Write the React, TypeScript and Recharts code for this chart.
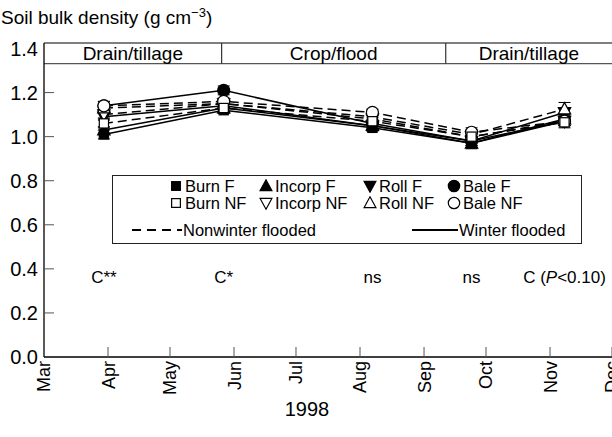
import React from 'react';
import {
  LineChart,
  Line,
  XAxis,
  YAxis,
  ErrorBar,
  ReferenceLine,
  ReferenceArea,
  ReferenceDot,
  Legend,
} from 'recharts';

const FONT = '"Liberation Sans", Arial, sans-serif';

// Sampling dates, counted in days after 1 March 1998
const sampleDays = [29, 87, 159, 207, 252];

// Soil bulk density (g cm-3), winter flooded (F) and nonwinter flooded (NF)
const burnF = [1.01, 1.12, 1.04, 0.97, 1.07];
const incorpF = [1.03, 1.13, 1.05, 0.97, 1.08];
const rollF = [1.09, 1.14, 1.05, 0.98, 1.11];
const baleF = [1.14, 1.21, 1.06, 0.98, 1.07];
const burnNF = [1.06, 1.13, 1.07, 1.0, 1.065];
const incorpNF = [1.1, 1.15, 1.08, 1.0, 1.07];
const rollNF = [1.13, 1.15, 1.09, 1.01, 1.125];
const baleNF = [1.14, 1.16, 1.11, 1.02, 1.07];

// Standard errors
const burnFErr = [0.02, 0.015, 0.015, 0.025, 0.02];
const incorpFErr = [0.015, 0.015, 0.015, 0.02, 0.02];
const rollFErr = [0.015, 0.015, 0.015, 0.02, 0.02];
const baleFErr = [0.02, 0.02, 0.015, 0.02, 0.02];
const burnNFErr = [0.02, 0.015, 0.015, 0.02, 0.025];
const incorpNFErr = [0.015, 0.015, 0.015, 0.02, 0.02];
const rollNFErr = [0.02, 0.015, 0.015, 0.02, 0.03];
const baleNFErr = [0.02, 0.015, 0.015, 0.02, 0.02];

// Contrast results printed under each sampling date
const contrastLabels = ['C**', 'C*', 'ns', 'ns', 'C (P<0.10)'];

// Month ticks (days after 1 March) and their labels
const monthTicks = [0, 31, 61, 92, 122, 153, 184, 214, 245, 275];
const monthLabels = ['Mar', 'Apr', 'May', 'Jun', 'Jul', 'Aug', 'Sep', 'Oct', 'Nov', 'Dec'];
const densityTicks = [0, 0.2, 0.4, 0.6, 0.8, 1.0, 1.2, 1.4];

// Management phases shown in the band across the top
const phaseNames = ['Drain/tillage', 'Crop/flood', 'Drain/tillage'];
const phaseBounds = [0, 86, 194.5, 275];

type Shape = 'square' | 'up' | 'down' | 'circle';

interface Series {
  key: string;
  name: string;
  values: number[];
  errors: number[];
  shape: Shape;
  filled: boolean;
}

// Drawing order: winter flooded first, nonwinter flooded on top
const seriesList: Series[] = [
  { key: 'rollF', name: 'Roll F', values: rollF, errors: rollFErr, shape: 'down', filled: true },
  { key: 'incorpF', name: 'Incorp F', values: incorpF, errors: incorpFErr, shape: 'up', filled: true },
  { key: 'burnF', name: 'Burn F', values: burnF, errors: burnFErr, shape: 'square', filled: true },
  { key: 'baleF', name: 'Bale F', values: baleF, errors: baleFErr, shape: 'circle', filled: true },
  { key: 'incorpNF', name: 'Incorp NF', values: incorpNF, errors: incorpNFErr, shape: 'down', filled: false },
  { key: 'rollNF', name: 'Roll NF', values: rollNF, errors: rollNFErr, shape: 'up', filled: false },
  { key: 'baleNF', name: 'Bale NF', values: baleNF, errors: baleNFErr, shape: 'circle', filled: false },
  { key: 'burnNF', name: 'Burn NF', values: burnNF, errors: burnNFErr, shape: 'square', filled: false },
];

const rows = sampleDays.map((day, i) => {
  const row: Record<string, number> = { day };
  seriesList.forEach((s) => {
    row[s.key] = s.values[i];
    row[s.key + 'Err'] = s.errors[i];
  });
  return row;
});

function MarkerShape({ cx, cy, shape, filled, scale = 1 }: { cx: number; cy: number; shape: Shape; filled: boolean; scale?: number }) {
  const fill = filled ? '#000' : '#fff';
  const common = { fill, stroke: '#000', strokeWidth: 1.2 };
  if (shape === 'square') {
    const h = 4.6 * scale;
    return <rect x={cx - h} y={cy - h} width={2 * h} height={2 * h} {...common} />;
  }
  if (shape === 'circle') {
    return <circle cx={cx} cy={cy} r={6 * scale} {...common} />;
  }
  const w = 6.2 * scale;
  const t = 6.5 * scale;
  const b = 4.8 * scale;
  const pts =
    shape === 'up'
      ? `${cx},${cy - t} ${cx + w},${cy + b} ${cx - w},${cy + b}`
      : `${cx},${cy + t} ${cx + w},${cy - b} ${cx - w},${cy - b}`;
  return <polygon points={pts} {...common} strokeLinejoin="miter" />;
}

function MonthTick(props: any) {
  const { x, y, payload } = props;
  const idx = monthTicks.indexOf(payload.value);
  return (
    <g>
      {idx > 0 && <line x1={x} x2={x} y1={y - 4} y2={y - 14} stroke="#555" strokeWidth={1} />}
      <text
        transform={`translate(${x},${y}) rotate(-90)`}
        textAnchor="end"
        dy="0.36em"
        fontSize={18}
        fontFamily={FONT}
        fill="#000"
      >
        {monthLabels[idx]}
      </text>
    </g>
  );
}

function DensityTick(props: any) {
  const { x, y, payload } = props;
  const v = payload.value as number;
  return (
    <g>
      {v > 0 && v < 1.4 && <line x1={x + 6} x2={x + 16} y1={y} y2={y} stroke="#555" strokeWidth={1} />}
      <text x={x} y={y} textAnchor="end" dy="0.36em" fontSize={20} fontFamily={FONT} fill="#000">
        {v.toFixed(1)}
      </text>
    </g>
  );
}

function LegendIcon({ shape, filled }: { shape: Shape; filled: boolean }) {
  return (
    <svg width={14} height={14} style={{ display: 'block' }}>
      <MarkerShape cx={7} cy={7} shape={shape} filled={filled} scale={0.95} />
    </svg>
  );
}

const legendColumns = [56, 146, 250, 334];
const legendRows: { shape: Shape; filled: boolean; name: string }[][] = [
  [
    { shape: 'square', filled: true, name: 'Burn F' },
    { shape: 'up', filled: true, name: 'Incorp F' },
    { shape: 'down', filled: true, name: 'Roll F' },
    { shape: 'circle', filled: true, name: 'Bale F' },
  ],
  [
    { shape: 'square', filled: false, name: 'Burn NF' },
    { shape: 'down', filled: false, name: 'Incorp NF' },
    { shape: 'up', filled: false, name: 'Roll NF' },
    { shape: 'circle', filled: false, name: 'Bale NF' },
  ],
];
const legendRowCenters = [10, 27];

function LegendBox() {
  const itemStyle = (left: number, center: number): React.CSSProperties => ({
    position: 'absolute',
    left,
    top: center - 8,
    height: 16,
    display: 'flex',
    alignItems: 'center',
    whiteSpace: 'nowrap',
    lineHeight: '16px',
  });
  return (
    <div
      style={{
        position: 'relative',
        width: 470,
        height: 69,
        border: '1.3px solid #222',
        boxSizing: 'border-box',
        background: '#fff',
        fontFamily: FONT,
        fontSize: 16.5,
        color: '#000',
      }}
    >
      {legendRows.map((row, r) =>
        row.map((item, c) => (
          <div key={item.name} style={itemStyle(legendColumns[c], legendRowCenters[r])}>
            <LegendIcon shape={item.shape} filled={item.filled} />
            <span style={{ marginLeft: 2 }}>{item.name}</span>
          </div>
        ))
      )}
      <div style={itemStyle(19, 54)}>
        <svg width={50} height={6} style={{ display: 'block' }}>
          <line x1={0} x2={50} y1={3} y2={3} stroke="#000" strokeWidth={2} strokeDasharray="9 6" />
        </svg>
        <span style={{ marginLeft: 1 }}>Nonwinter flooded</span>
      </div>
      <div style={itemStyle(299, 54)}>
        <svg width={46} height={6} style={{ display: 'block' }}>
          <line x1={0} x2={46} y1={3} y2={3} stroke="#000" strokeWidth={2} />
        </svg>
        <span style={{ marginLeft: 1 }}>Winter flooded</span>
      </div>
    </div>
  );
}

function ContrastLabel(text: string) {
  return (props: any) => {
    const vb = props.viewBox || {};
    const cx = (vb.x ?? 0) + (vb.width ?? 0) / 2;
    const cy = (vb.y ?? 0) + (vb.height ?? 0) / 2;
    const m = text.match(/^(.*\()P(.*)$/);
    return (
      <text x={cx} y={cy} textAnchor="middle" dy="0.36em" fontSize={17} fontFamily={FONT} fill="#000">
        {m ? (
          <>
            {m[1]}
            <tspan fontStyle="italic">P</tspan>
            {m[2]}
          </>
        ) : (
          text
        )}
      </text>
    );
  };
}

export default function App() {
  return (
    <div style={{ position: 'absolute', left: 0, top: 0, width: 612, height: 437, background: '#fff' }}>
      <div
        style={{
          position: 'absolute',
          left: 1,
          top: 7,
          fontFamily: FONT,
          fontSize: 19,
          lineHeight: '22px',
          color: '#000',
          whiteSpace: 'nowrap',
        }}
      >
        Soil bulk density (g cm
        <sup style={{ fontSize: 13, verticalAlign: 'baseline', position: 'relative', top: -7 }}>−3</sup>)
      </div>
      <LineChart width={612} height={437} data={rows} margin={{ top: 43, right: 0, bottom: 0, left: 0 }}>
        <XAxis
          type="number"
          dataKey="day"
          domain={[0, 275]}
          ticks={monthTicks}
          interval={0}
          tick={<MonthTick />}
          tickSize={0}
          tickMargin={4}
          tickLine={false}
          height={80}
          axisLine={{ stroke: '#000', strokeWidth: 1.3 }}
        />
        <YAxis
          type="number"
          domain={[0, 1.425]}
          ticks={densityTicks}
          interval={0}
          tick={<DensityTick />}
          tickSize={0}
          tickMargin={6}
          tickLine={false}
          width={44}
          axisLine={{ stroke: '#000', strokeWidth: 1.3 }}
        />

        {/* Phase band across the top of the plot */}
        <ReferenceLine y={1.425} stroke="#555" strokeWidth={1.3} />
        <ReferenceLine y={1.331} stroke="#555" strokeWidth={1.3} />
        {phaseBounds.slice(1, -1).map((d) => (
          <ReferenceLine
            key={`sep-${d}`}
            segment={[
              { x: d, y: 1.331 },
              { x: d, y: 1.425 },
            ]}
            stroke="#333"
            strokeWidth={1.2}
          />
        ))}
        {phaseNames.map((name, i) => (
          <ReferenceArea
            key={`phase-${i}`}
            x1={phaseBounds[i]}
            x2={phaseBounds[i + 1]}
            y1={1.331}
            y2={1.425}
            fill="none"
            stroke="none"
            label={{ value: name, position: 'center', fontSize: 19, fontFamily: FONT, fill: '#000' }}
          />
        ))}

        {sampleDays.map((d, i) => (
          <ReferenceDot
            key={`contrast-${i}`}
            x={d}
            y={0.362}
            r={0}
            fill="none"
            stroke="none"
            label={ContrastLabel(contrastLabels[i])}
          />
        ))}

        {seriesList.map((s) => (
          <Line
            key={s.key}
            dataKey={s.key}
            name={s.name}
            type="linear"
            stroke="#000"
            strokeWidth={1.5}
            strokeDasharray={s.filled ? undefined : '9 5'}
            isAnimationActive={false}
            dot={(p: any) => (
              <MarkerShape key={`${s.key}-${p.index}`} cx={p.cx} cy={p.cy} shape={s.shape} filled={s.filled} />
            )}
            activeDot={false}
          >
            <ErrorBar dataKey={s.key + 'Err'} direction="y" width={6} stroke="#000" strokeWidth={1} />
          </Line>
        ))}

        <Legend
          layout="horizontal"
          verticalAlign="middle"
          align="center"
          content={() => <LegendBox />}
          wrapperStyle={{ position: 'absolute', left: 112, top: 175, width: 470, height: 69 }}
        />
      </LineChart>
      <div
        style={{
          position: 'absolute',
          left: 282,
          top: 397,
          width: 50,
          textAlign: 'center',
          fontFamily: FONT,
          fontSize: 20,
          lineHeight: '24px',
          color: '#000',
        }}
      >
        1998
      </div>
    </div>
  );
}
